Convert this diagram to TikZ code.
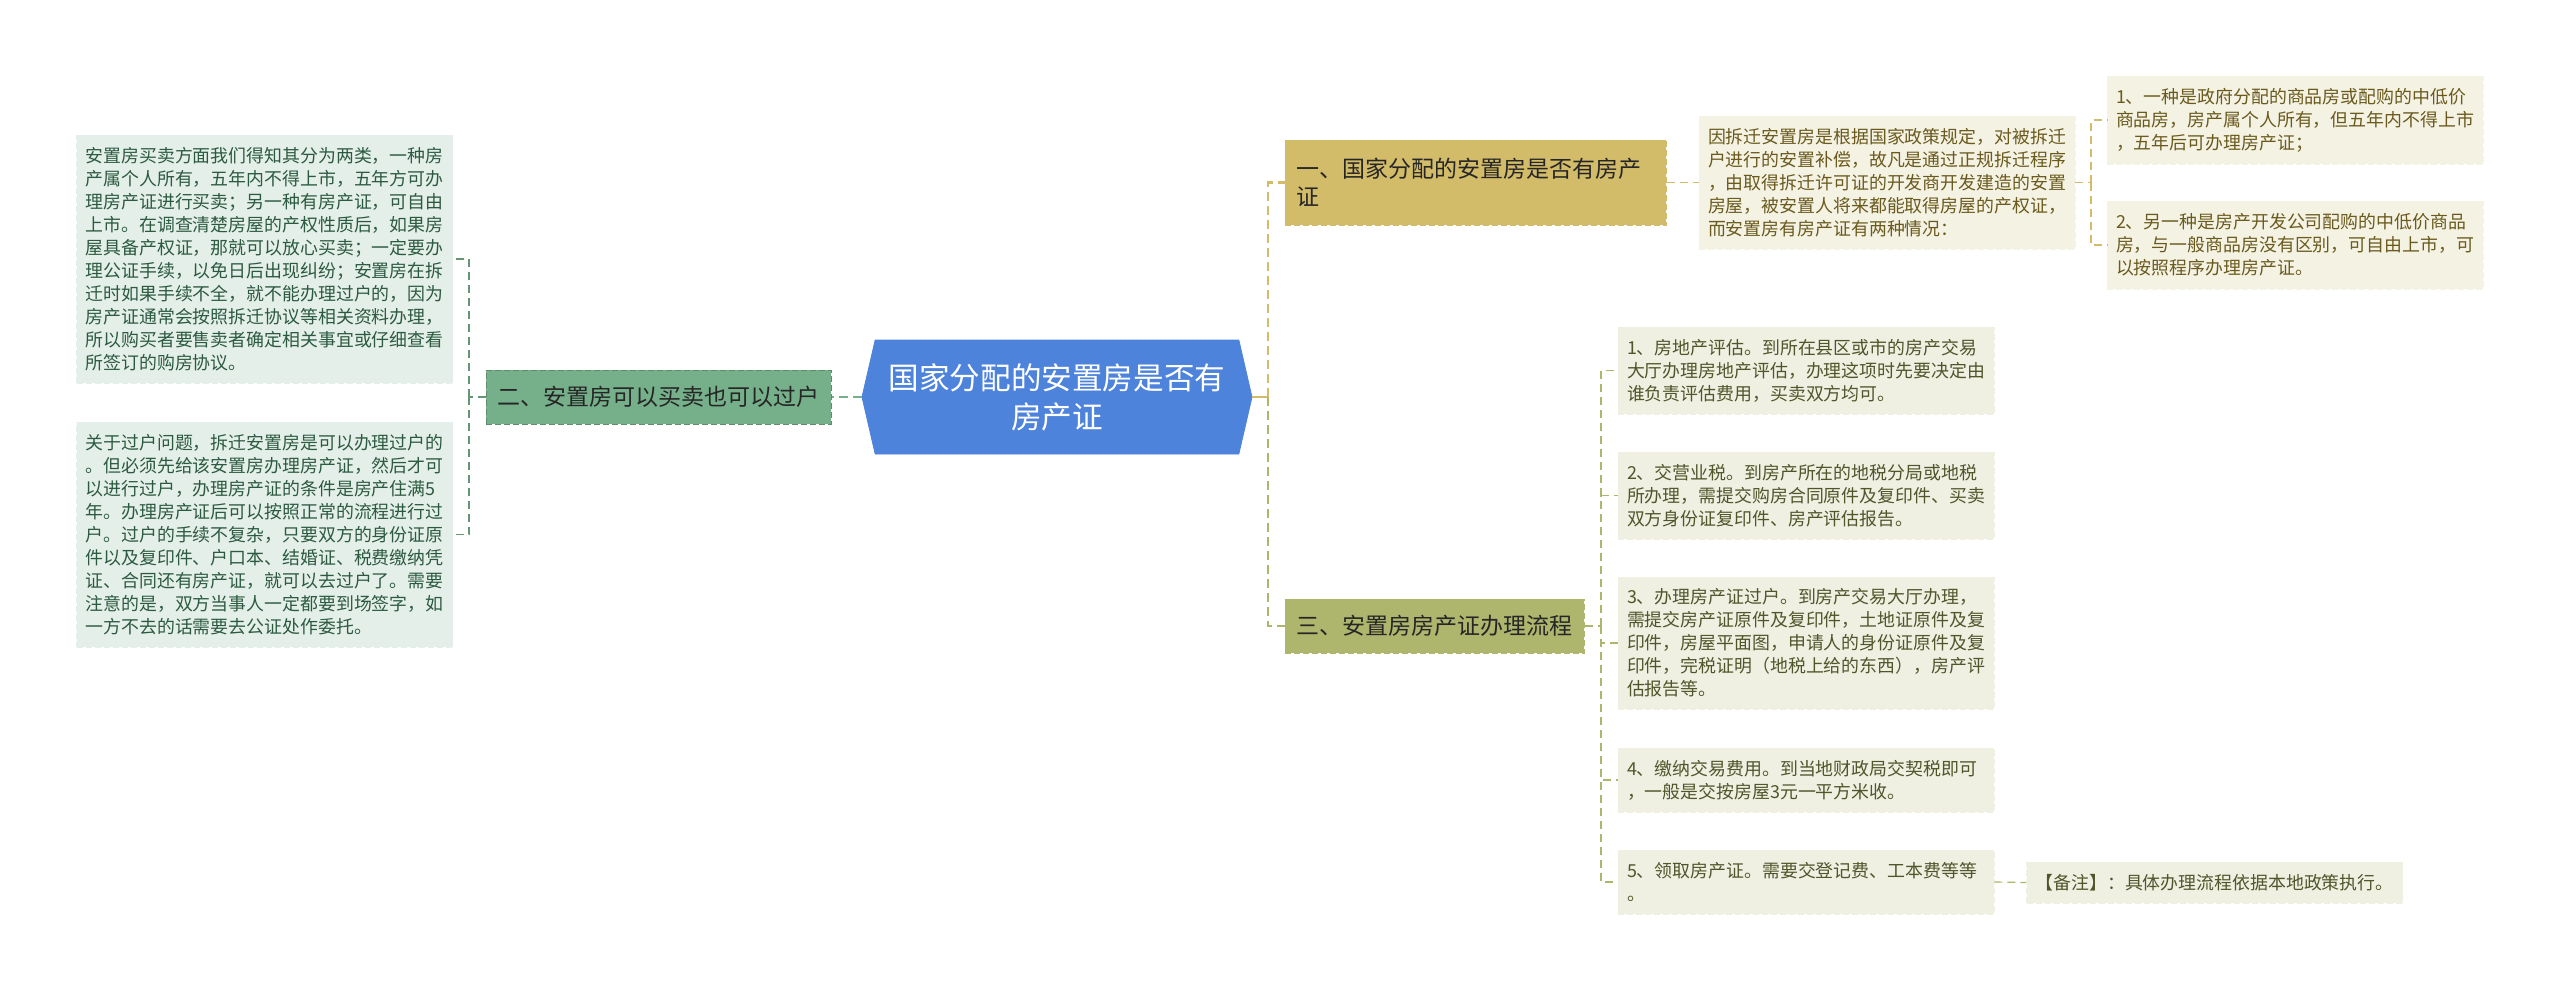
\documentclass[tikz,border=0pt]{standalone}
\usepackage{fontspec}
\setmainfont{Noto Sans CJK SC}
\usetikzlibrary{shapes.symbols}
\definecolor{rootblue}{HTML}{4E83DB}
\definecolor{greenfill}{HTML}{76B08A}
\definecolor{greenleaf}{HTML}{E4EFE9}
\definecolor{greentext}{HTML}{2C5A40}
\definecolor{goldfill}{HTML}{D2BB69}
\definecolor{goldleaf}{HTML}{F4F2E3}
\definecolor{goldtext}{HTML}{6A5A1E}
\definecolor{olivefill}{HTML}{AEB56D}
\definecolor{oliveleaf}{HTML}{EFF0E2}
\definecolor{olivetext}{HTML}{50552A}
\tikzset{
  branch/.style={draw, dashed, dash pattern=on 3pt off 1.5pt, line width=0.5pt, align=left, anchor=center, inner xsep=5.5pt, inner ysep=0pt, text=black!85,
    font=\fontsize{11.5}{14.2}\selectfont},
  leaf/.style={draw, dash pattern=on 3pt off 1.5pt, line width=0.4pt, align=left, anchor=center, text width=179pt, inner xsep=4.5pt, inner ysep=0pt,
    font=\fontsize{8.95}{11.5}\selectfont},
  greenbox/.style={leaf, fill=greenleaf, draw=greenleaf, text=greentext},
  goldbox/.style={leaf, fill=goldleaf, draw=goldleaf, text=goldtext},
  olivebox/.style={leaf, fill=oliveleaf, draw=oliveleaf, text=olivetext},
  mainlink/.style={line width=1.2pt, dash pattern=on 4.5pt off 2.5pt},
  sublink/.style={line width=0.6pt, dash pattern=on 4pt off 2.5pt},
}
\begin{document}
\begin{tikzpicture}[x=0.5pt,y=-0.5pt]
    \useasboundingbox (0,0) rectangle (2560,991);

    \node[signal, signal to=east and west, signal pointer angle=154, fill=rootblue, draw=rootblue, line width=0.4pt, inner sep=0pt, minimum width=195pt, minimum height=57pt, text=white, align=center, font=\fontsize{15.3}{19.5}\selectfont] (root) at (1057,397) {国家分配的安置房是否有\\房产证};

    \node[branch, fill=greenfill, draw=greenfill!80!black, minimum width=172.5pt, minimum height=27pt] (branchtwo) at (658.5,397) {二、安置房可以买卖也可以过户};
    \node[branch, fill=goldfill, draw=goldfill, text width=179.5pt, minimum height=42.5pt] (branchone) at (1475.5,182.5) {一、国家分配的安置房是否有房产\\证};
    \node[branch, fill=olivefill, draw=olivefill, minimum width=149.5pt, minimum height=27pt] (branchthree) at (1434.5,626) {三、安置房房产证办理流程};

    \node[greenbox, minimum height=124pt] (buyleaf) at (264.5,259) {安置房买卖方面我们得知其分为两类，一种房\\产属个人所有，五年内不得上市，五年方可办\\理房产证进行买卖；另一种有房产证，可自由\\上市。在调查清楚房屋的产权性质后，如果房\\屋具备产权证，那就可以放心买卖；一定要办\\理公证手续，以免日后出现纠纷；安置房在拆\\迁时如果手续不全，就不能办理过户的，因为\\房产证通常会按照拆迁协议等相关资料办理，\\所以购买者要售卖者确定相关事宜或仔细查看\\所签订的购房协议。};
    \node[greenbox, minimum height=112.5pt] (transferleaf) at (264.5,534.5) {关于过户问题，拆迁安置房是可以办理过户的\\。但必须先给该安置房办理房产证，然后才可\\以进行过户，办理房产证的条件是房产住满5\\年。办理房产证后可以按照正常的流程进行过\\户。过户的手续不复杂，只要双方的身份证原\\件以及复印件、户口本、结婚证、税费缴纳凭\\证、合同还有房产证，就可以去过户了。需要\\注意的是，双方当事人一定都要到场签字，如\\一方不去的话需要去公证处作委托。};

    \node[goldbox, minimum height=66.5pt] (policy) at (1887,182.5) {因拆迁安置房是根据国家政策规定，对被拆迁\\户进行的安置补偿，故凡是通过正规拆迁程序\\，由取得拆迁许可证的开发商开发建造的安置\\房屋，被安置人将来都能取得房屋的产权证，\\而安置房有房产证有两种情况：};
    \node[goldbox, minimum height=44pt] (caseone) at (2295,120) {1、一种是政府分配的商品房或配购的中低价\\商品房，房产属个人所有，但五年内不得上市\\，五年后可办理房产证；};
    \node[goldbox, minimum height=44pt] (casetwo) at (2295,245) {2、另一种是房产开发公司配购的中低价商品\\房，与一般商品房没有区别，可自由上市，可\\以按照程序办理房产证。};

    \node[olivebox, minimum height=43.5pt] (stepone) at (1806,370.5) {1、房地产评估。到所在县区或市的房产交易\\大厅办理房地产评估，办理这项时先要决定由\\谁负责评估费用，买卖双方均可。};
    \node[olivebox, minimum height=43.5pt] (steptwo) at (1806,495.5) {2、交营业税。到房产所在的地税分局或地税\\所办理，需提交购房合同原件及复印件、买卖\\双方身份证复印件、房产评估报告。};
    \node[olivebox, minimum height=66pt] (stepthree) at (1806,643) {3、办理房产证过户。到房产交易大厅办理，\\需提交房产证原件及复印件，土地证原件及复\\印件，房屋平面图，申请人的身份证原件及复\\印件，完税证明（地税上给的东西），房产评\\估报告等。};
    \node[olivebox, minimum height=32pt] (stepfour) at (1806,780) {4、缴纳交易费用。到当地财政局交契税即可\\，一般是交按房屋3元一平方米收。};
    \node[olivebox, minimum height=32pt] (stepfive) at (1806,882) {5、领取房产证。需要交登记费、工本费等等\\。};
    \node[olivebox, minimum height=20.5pt] (remark) at (2214.5,882.5) {【备注】：具体办理流程依据本地政策执行。};

    \coordinate (busroot) at (1268,397);
    \coordinate (busleft) at (469,397);
    \coordinate (buspolicy) at (2091,182.5);
    \coordinate (busstep) at (1601,626);

    \draw[mainlink, greenfill] (root.west) -- (branchtwo.east);
    \draw[line width=1.2pt, goldfill] (root.east) -- (busroot);
    \draw[mainlink, goldfill] (busroot) |- (branchone.west);
    \draw[mainlink, olivefill] (busroot) |- (branchthree.west);

    \draw[sublink, greenfill!85!black] (branchtwo.west) -- (busleft);
    \draw[sublink, greenfill!85!black] (busleft) |- (buyleaf.east);
    \draw[sublink, greenfill!85!black] (busleft) |- (transferleaf.east);

    \draw[sublink, goldfill] (branchone.east) -- (policy.west);
    \draw[sublink, goldfill] (policy.east) -- (buspolicy);
    \draw[sublink, goldfill] (buspolicy) |- (caseone.west);
    \draw[sublink, goldfill] (buspolicy) |- (casetwo.west);

    \draw[sublink, olivefill] (branchthree.east) -- (busstep);
    \draw[sublink, olivefill] (busstep) |- (stepone.west);
    \draw[sublink, olivefill] (busstep) |- (steptwo.west);
    \draw[sublink, olivefill] (busstep) |- (stepthree.west);
    \draw[sublink, olivefill] (busstep) |- (stepfour.west);
    \draw[sublink, olivefill] (busstep) |- (stepfive.west);
    \draw[sublink, olivefill] (stepfive.east) -- (remark.west);
  \end{tikzpicture}
\end{document}
